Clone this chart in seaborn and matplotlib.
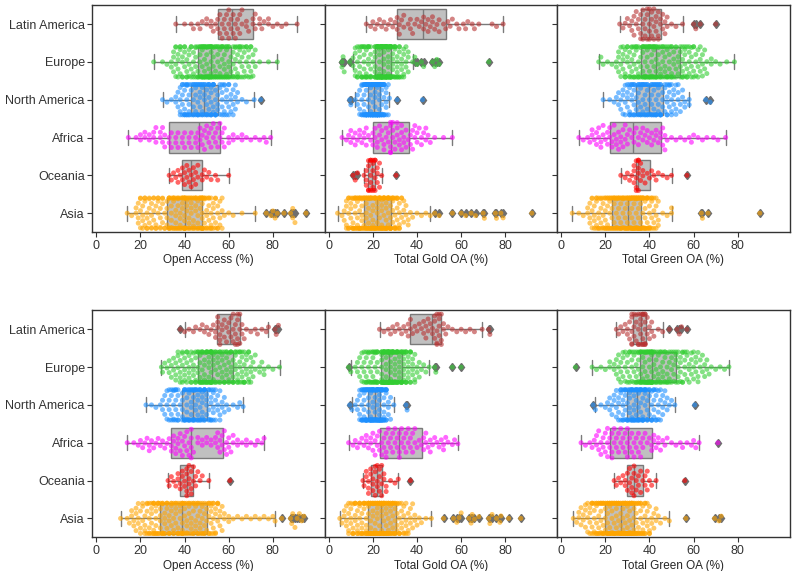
import warnings
warnings.filterwarnings("ignore")
import numpy as np
import pandas as pd
import matplotlib
matplotlib.use("Agg")
import matplotlib.pyplot as plt
import seaborn as sns

REGIONS = ["Latin America", "Europe", "North America", "Africa", "Oceania", "Asia"]
COLORS = ["#b83232", "limegreen", "dodgerblue", "magenta", "red", "orange"]
XLABELS = ["Open Access (%)", "Total Gold OA (%)", "Total Green OA (%)"]
XTICKS = [0, 20, 40, 60, 80]

# Frequency tables (value, count), one list per region.
OA_TOP = {
    "Latin America": [(36,1),(40,1),(43,1),(44,1),(46,1),(47,1),(48,1),(50,2),(52,2),(53,1),(54,1),(55,2),(56,2),(57,2),(58,2),(59,2),(60,3),(61,2),(62,2),(63,2),(64,2),(65,2),(66,2),(68,2),(69,1),(71,2),(72,2),(74,2),(75,1),(76,1),(78,2),(80,1),(82,1),(84,1),(86,1),(91,1)],
    "Europe": [(26,1),(30,1),(32,1),(34,2),(35,3),(36,4),(37,4),(38,4),(39,4),(40,4),(41,4),(42,4),(43,4),(44,4),(45,5),(46,4),(47,6),(48,8),(49,8),(50,8),(51,8),(52,10),(53,6),(54,6),(55,6),(56,6),(57,6),(58,6),(59,6),(60,6),(61,3),(62,5),(63,5),(64,5),(65,5),(66,4),(67,4),(68,4),(69,4),(70,4),(71,3),(72,2),(74,1),(78,1),(82,1)],
    "North America": [(30,1),(32,1),(34,1),(36,2),(37,2),(38,4),(39,5),(40,6),(41,6),(42,6),(43,3),(44,6),(45,6),(46,6),(47,6),(48,6),(49,5),(50,6),(51,6),(52,6),(53,6),(54,6),(55,3),(56,3),(57,5),(58,4),(59,4),(60,4),(61,3),(62,3),(63,3),(64,2),(66,1),(68,1),(71.5,1),(74.5,1)],
    "Africa": [(14.5,1),(18,1),(20,2),(22,2),(24,2),(26,2),(27,2),(29,2),(30,2),(31,2),(33,2),(34,2),(36,2),(37,2),(39,2),(40,2),(42,2),(43,2),(45,2),(46,2),(47,2),(48,2),(49,2),(50,2),(51,2),(52,2),(53,2),(54,2),(55,2),(56,2),(57,2),(58,2),(60,2),(62,2),(64,1),(66,2),(68,1),(70,1),(72,1),(74,1),(76,1),(77,1),(79,1)],
    "Oceania": [(33,1),(34,1),(35,1),(36,1),(37,2),(38,1),(39,2),(40,2),(41,2),(42,2),(43,2),(44,2),(45,2),(46,2),(48,2),(49,1),(50,1),(51,1),(52,1),(54,1),(55,1),(60,1)],
    "Asia": [(14,1),(16,1),(18,2),(19,3),(20,4),(21,4),(22,4),(23,4),(24,4),(25,4),(26,4),(27,4),(28,4),(29,4),(30,4),(31,3),(32,4),(33,6),(34,6),(35,6),(36,6),(37,6),(38,6),(39,6),(40,12),(41,6),(42,6),(43,6),(44,6),(45,6),(46,6),(47,6),(48,12),(49,5),(50,5),(51,5),(52,5),(53,4),(54,4),(55,4),(56,3),(57,3),(58,1),(60,1),(62,1),(66,1),(72,1),(77,1),(79,1),(80,1),(81,1),(82,1),(85,1),(88,1),(89,2),(90,1),(95,1)],
}
GOLD_TOP = {
    "Latin America": [(17,1),(19,1),(20,1),(21,1),(22,1),(23,1),(24,1),(25,1),(26,1),(27,1),(28,1),(29,1),(30,1),(31,2),(32,2),(33,1),(34,2),(36,1),(37,2),(38,1),(39,1),(40,1),(41,1),(42,1),(43,2),(44,1),(45,2),(46,1),(47,2),(48,1),(49,1),(50,2),(52,1),(53,1),(54,1),(55,1),(56,1),(58,1),(59,1),(61,1),(62,1),(63,1),(65,1),(66,1),(68,1),(74,1),(76,1),(79,1)],
    "Europe": [(6,2),(6.5,1),(7,1),(9.5,1),(11,2),(12,4),(13,4),(14,5),(15,5),(16,6),(17,6),(18,6),(19,6),(20,1),(21,9),(22,12),(23,14),(24,16),(25,14),(26,13),(27,12),(28,12),(29,7),(30,6),(31,6),(32,5),(33,4),(34,4),(35,3),(36,3),(38,1),(39,1),(40,1),(42,1),(43,1),(47,1),(48,1),(49,1),(50,1),(72.5,1)],
    "North America": [(9.5,1),(10,1),(12,1),(13,2),(14,3),(15,5),(16,9),(17,12),(18,10),(19,12),(20,14),(21,14),(22,14),(23,14),(24,10),(25,8),(26,5),(27,2),(27.5,1),(31,1),(42.5,1)],
    "Africa": [(6,1),(8,1),(9,1),(10,2),(11,1),(12,2),(13,1),(14,2),(15,1),(16,2),(17,2),(18,1),(19,1),(20,2),(21,2),(22,2),(23,2),(24,2),(25,2),(26,2),(27,2),(28,5),(29,3),(30,2),(31,3),(32,2),(33,3),(34,2),(35,2),(36,1),(37,2),(38,2),(39,2),(40,2),(41,1),(42,2),(43,1),(44,2),(45,1),(46,1),(48,1),(52,1),(56,1)],
    "Oceania": [(11,1),(12,1),(13,1),(16,1),(17,3),(18,4),(19,5),(20,5),(21,4),(22,3),(23,2),(24,1),(30.5,1)],
    "Asia": [(4,1),(6,1),(7,2),(8,4),(9,5),(10,5),(11,6),(12,7),(13,7),(14,8),(15,8),(16,6),(17,9),(18,9),(19,9),(20,9),(21,9),(22,8),(23,9),(24,9),(25,9),(26,9),(27,9),(28,9),(29,6),(30,6),(31,6),(32,5),(33,3),(34,3),(35,2),(36,2),(37,1),(38,1),(40,1),(42,1),(44,1),(46,1),(48,1),(50,1),(56,1),(60,1),(62,1),(64.5,1),(66.5,1),(70,1),(70.5,1),(75.5,1),(76,1),(78,1),(79,1),(92,1)],
}
GREEN_TOP = {
    "Latin America": [(26.5,1),(28,1),(29,1),(30,1),(31,1),(32,2),(33,2),(34,2),(35,2),(36,3),(37,3),(38,3),(39,3),(40,4),(41,3),(42,3),(43,3),(44,3),(45,2),(46,2),(47,2),(48,2),(50,1),(52,1),(55,1),(60,1),(61,1),(63,1),(70,1)],
    "Europe": [(17,1),(18,1),(19,1),(21,1),(23,1),(25,2),(26,3),(27,3),(28,4),(29,4),(30,4),(31,4),(32,5),(33,5),(34,5),(35,5),(36,4),(37,7),(38,7),(39,7),(40,7),(41,7),(42,7),(43,7),(44,5),(45,5),(46,5),(47,5),(48,5),(49,5),(50,5),(51,4),(52,4),(53,3),(54,4),(55,5),(56,5),(57,4),(58,4),(59,4),(60,4),(61,3),(62,3),(63,3),(64,3),(65,2),(66,2),(68,2),(70,1),(72,1),(75,1),(78.5,1)],
    "North America": [(19,1),(22,1),(24,1),(25,1),(26,2),(27,2),(28,3),(29,3),(30,4),(31,5),(32,5),(33,6),(34,4),(35,6),(36,6),(37,6),(38,6),(39,6),(40,4),(41,6),(42,6),(43,6),(44,6),(45,6),(46,3),(47,3),(48,5),(49,4),(50,4),(51,3),(52,3),(53,3),(54,2),(55,2),(56,2),(58,2),(65.5,1),(67.5,1)],
    "Africa": [(8,1),(10,1),(12,1),(13,1),(14,2),(15,1),(16,2),(17,2),(18,2),(19,2),(20,1),(21,2),(22,2),(23,2),(24,2),(25,2),(26,2),(27,2),(28,2),(29,2),(30,2),(31,1),(32,1),(33,2),(34,1),(35,2),(36,1),(37,2),(38,1),(39,2),(40,1),(41,2),(42,1),(43,2),(44,1),(45,2),(46,2),(47,2),(48,1),(50,1),(52,1),(54,1),(56,1),(58,1),(59,1),(60,1),(62,1),(64,1),(66,1),(69,1),(71,1),(74.5,1)],
    "Oceania": [(27,1),(29,1),(30,1),(31,1),(32,1),(33,3),(34,4),(35,5),(36,2),(37,2),(38,1),(39,1),(40,1),(41,1),(42,1),(43,1),(44,1),(46,1),(48,1),(50,1),(57,1)],
    "Asia": [(5,1),(8,1),(10,1),(12,2),(13,3),(14,4),(15,4),(16,5),(17,5),(18,5),(19,5),(20,6),(21,6),(22,6),(23,6),(24,7),(25,7),(26,7),(27,7),(28,7),(29,7),(30,8),(31,8),(32,10),(33,10),(34,10),(35,10),(36,10),(37,8),(38,7),(39,7),(40,6),(41,5),(42,4),(43,4),(44,3),(46,1),(48,1),(50,2),(63.5,1),(64,1),(66.5,1),(90,1)],
}
OA_BOT = {
    "Latin America": [(38,1),(40,1),(42,1),(44,1),(45,1),(47,1),(48,1),(49,1),(50,1),(51,1),(52,1),(53,1),(54,2),(55,3),(56,3),(57,2),(58,2),(59,2),(60,2),(61,2),(62,3),(63,3),(64,4),(65,3),(66,2),(67,1),(68,1),(70,1),(72,1),(73,1),(75,1),(77,1),(78,1),(81,1),(81.5,1),(82.5,1)],
    "Europe": [(29.5,1),(30,1),(31,1),(32,1),(33,2),(34,2),(35,2),(36,3),(37,3),(38,4),(39,4),(40,4),(41,4),(42,4),(43,4),(44,4),(45,5),(46,4),(47,7),(48,7),(49,7),(50,7),(51,7),(52,12),(53,6),(54,5),(55,5),(56,5),(57,5),(58,5),(59,5),(60,5),(61,5),(62,5),(63,5),(64,5),(65,5),(66,5),(67,5),(68,4),(69,4),(70,4),(71,2),(72,2),(74,2),(75,1),(76,2),(78,1),(80,1),(83,1)],
    "North America": [(22.5,1),(25,1),(27,1),(29,1),(30,2),(31,2),(32,3),(33,4),(34,4),(35,5),(36,5),(37,5),(38,1),(39,5),(40,6),(41,6),(42,6),(43,6),(44,8),(45,6),(46,6),(47,6),(48,6),(49,6),(50,4),(51,5),(52,5),(53,5),(54,3),(55,3),(56,3),(57,2),(58,2),(59,1),(60,1),(62,1),(64,1),(65,1),(66.5,1)],
    "Africa": [(14,1),(17,1),(19,1),(20,1),(21,1),(22,1),(23,1),(24,2),(25,1),(26,1),(27,1),(28,1),(29,1),(30,1),(31,1),(32,1),(33,1),(34,2),(35,2),(36,2),(37,2),(38,2),(39,2),(40,2),(41,2),(42,2),(43,4),(44,1),(46,2),(48,2),(50,2),(52,2),(54,2),(55,2),(56,2),(57,2),(58,2),(59,2),(60,2),(61,1),(62,2),(64,2),(66,1),(68,2),(70,1),(72,1),(73,1),(75,1),(76,1)],
    "Oceania": [(32.5,1),(33,1),(34,1),(35,1),(36,1),(37,2),(38,2),(39,2),(40,2),(41,4),(42,3),(43,3),(44,2),(45,2),(46,1),(47,1),(48,1),(51,1),(60.5,1)],
    "Asia": [(11,1),(14,1),(15,1),(16,2),(17,2),(18,3),(19,3),(20,3),(21,3),(22,4),(23,4),(24,5),(25,5),(26,6),(27,6),(28,5),(29,6),(30,6),(31,5),(32,5),(33,5),(34,5),(35,5),(36,5),(37,5),(38,5),(39,8),(40,5),(41,5),(42,5),(43,5),(44,5),(45,5),(46,5),(47,5),(48,5),(49,5),(50,4),(51,5),(52,5),(53,5),(54,4),(55,4),(56,3),(57,2),(58,2),(60,2),(62,1),(64,1),(66,1),(68,1),(70,1),(72,1),(74,1),(76,1),(78,1),(80,1),(81,1),(84,1),(88,1),(88.5,1),(89,1),(90,1),(91,1),(92,1),(93,1),(94,1)],
}
GOLD_BOT = {
    "Latin America": [(23,1),(25,1),(27,1),(28,1),(29,1),(30,1),(31,1),(32,1),(33,1),(34,1),(35,1),(36,2),(37,2),(38,1),(39,1),(40,1),(41,1),(42,1),(43,2),(44,2),(45,2),(46,1),(47,2),(48,3),(49,4),(50,4),(51,3),(52,2),(53,1),(54,1),(56,1),(58,1),(60,1),(62,1),(64,1),(66,1),(69.5,1),(72.5,1),(73,1)],
    "Europe": [(9,1),(10,1),(12,1),(13,2),(14,2),(15,3),(16,4),(17,5),(18,5),(19,5),(20,6),(21,7),(22,8),(24,12),(25,12),(26,13),(27,13),(28,12),(29,11),(30,10),(31,9),(32,7),(33,8),(34,8),(35,6),(36,5),(37,5),(38,4),(39,3),(40,2),(41,2),(42,1),(43,1),(44,1),(45.5,1),(48,1),(48.5,1),(56,1),(60,1)],
    "North America": [(9.5,1),(10.5,1),(12,1),(13,2),(14,4),(15,6),(16,9),(17,10),(18,9),(19,12),(20,13),(21,10),(22,13),(23,14),(24,11),(25,9),(26,7),(27,3),(28,2),(29.5,1),(35,1),(35.5,1)],
    "Africa": [(9,1),(11,1),(12,1),(13,1),(14,1),(15,1),(16,1),(17,2),(18,1),(19,2),(20,2),(21,2),(22,2),(23,2),(24,2),(25,2),(26,3),(27,2),(28,2),(29,2),(30,2),(31,2),(32,3),(33,2),(34,2),(35,2),(36,2),(37,2),(38,2),(39,2),(40,1),(41,1),(42,1),(43,2),(44,2),(45,1),(46,2),(47,1),(48,1),(49,1),(50,1),(51,1),(52,2),(53,1),(54,1),(56,1),(57,1),(58.5,1)],
    "Oceania": [(15.5,1),(16,1),(17,2),(18,3),(19,2),(20,3),(21,3),(22,3),(23,3),(24,3),(25,2),(26,2),(28,1),(30,1),(31.5,1),(37,1)],
    "Asia": [(5,1),(6,1),(7,2),(8,3),(9,4),(10,4),(11,5),(12,5),(13,5),(14,6),(15,6),(16,6),(17,7),(18,9),(19,9),(20,9),(21,9),(22,9),(23,10),(24,9),(25,9),(26,8),(27,8),(28,7),(29,7),(30,7),(31,5),(32,5),(33,4),(34,4),(35,4),(36,3),(37,3),(38,2),(39,2),(40,1),(41,1),(42,1),(44,1),(46.5,1),(52,1),(56.5,1),(58,1),(59,1),(60,1),(63.5,1),(64.5,1),(65,1),(66,1),(68,1),(72.5,1),(73,1),(74,1),(76,1),(77.5,1),(78,1),(81.5,1),(87,1)],
}
GREEN_BOT = {
    "Latin America": [(25,1),(26,1),(27,1),(28,1),(29,1),(30,2),(31,2),(32,5),(33,3),(34,3),(35,4),(36,5),(37,6),(38,7),(39,2),(40,2),(41,2),(42,1),(44,1),(46,1),(49,1),(52.5,1),(53.5,1),(54.5,1),(57,1)],
    "Europe": [(6.5,1),(14,1),(16,1),(18,1),(20,1),(22,2),(24,2),(25,2),(26,3),(27,3),(28,3),(29,3),(30,4),(31,4),(32,4),(33,4),(34,5),(35,6),(36,7),(37,7),(38,8),(39,8),(40,9),(41,12),(42,5),(43,5),(44,5),(45,5),(46,5),(47,5),(48,5),(49,4),(50,4),(51,4),(52,4),(53,4),(54,4),(55,4),(56,4),(57,3),(58,3),(59,3),(60,3),(61,3),(62,3),(63,2),(64,2),(65,2),(66,2),(67,1),(68,1),(70,1),(72,1),(74,1),(76,1)],
    "North America": [(14.5,1),(15.5,1),(18,1),(20,1),(21,1),(22,2),(23,2),(24,2),(25,3),(26,4),(27,4),(28,6),(29,6),(30,5),(31,7),(32,8),(33,8),(34,8),(35,8),(36,7),(37,7),(38,6),(39,6),(40,4),(41,5),(42,5),(43,4),(44,4),(45,3),(46,3),(47,2),(48,2),(49,1),(50,1),(51.5,1),(60.5,1)],
    "Africa": [(9,1),(11,1),(13,1),(14,1),(15,1),(16,2),(17,2),(18,2),(19,2),(20,2),(21,3),(22,2),(23,3),(24,2),(25,2),(26,2),(27,2),(28,2),(29,2),(30,3),(31,2),(32,2),(33,2),(34,2),(35,2),(36,2),(37,2),(38,1),(39,1),(40,1),(41,2),(42,2),(43,1),(44,2),(45,1),(46,1),(47,1),(48,1),(50,1),(52,1),(54,1),(55,1),(57,1),(59,1),(60,1),(61,1),(62.5,1),(71,1)],
    "Oceania": [(24,1),(25,1),(26,1),(27,1),(28,1),(29,2),(30,2),(31,2),(32,3),(33,3),(34,2),(35,2),(36,2),(37,1),(38,2),(39,2),(40,1),(41,1),(43,1),(56,1)],
    "Asia": [(5.5,1),(7,1),(8,2),(9,2),(10,2),(11,3),(12,3),(13,4),(14,5),(15,5),(16,6),(17,6),(18,7),(19,7),(20,6),(21,8),(22,8),(23,8),(24,8),(25,8),(26,8),(27,8),(28,9),(29,9),(30,9),(31,9),(32,9),(33,8),(34,7),(35,6),(36,6),(37,5),(38,5),(39,4),(40,4),(41,2),(42,2),(43,2),(44,1),(45,1),(47,1),(49,1),(56.5,1),(69.5,1),(71.5,1),(72.5,1)],
}

PANELS = [[OA_TOP, GOLD_TOP, GREEN_TOP], [OA_BOT, GOLD_BOT, GREEN_BOT]]


def to_frame(table):
    rows = []
    for reg in REGIONS:
        vals = np.repeat([v for v, c in table[reg]], [c for v, c in table[reg]])
        rows.append(pd.DataFrame({"region": reg, "value": vals}))
    return pd.concat(rows, ignore_index=True)


sns.set_style("ticks")
plt.rcParams["font.family"] = ["Liberation Sans", "DejaVu Sans"]
plt.rcParams["axes.edgecolor"] = "#333333"
plt.rcParams["xtick.color"] = "#333333"
plt.rcParams["ytick.color"] = "#333333"
plt.rcParams["text.color"] = "#262626"
plt.rcParams["axes.labelcolor"] = "#262626"

fig = plt.figure(figsize=(7.96, 5.71), dpi=100)
gs = fig.add_gridspec(2, 3, left=0.116, right=0.992, top=0.991, bottom=0.059,
                      wspace=0.0, hspace=0.345)
pal = dict(zip(REGIONS, COLORS))

for r in range(2):
    for c in range(3):
        ax = fig.add_subplot(gs[r, c])
        df = to_frame(PANELS[r][c])
        sns.boxplot(data=df, x="value", y="region", order=REGIONS, color="#c0c0c0",
                    linecolor="#7a7a7a", linewidth=1.0, width=0.8, whis=1.5,
                    flierprops=dict(marker="d", markersize=4.5,
                                    markerfacecolor="#6e6e6e", markeredgecolor="#6e6e6e"),
                    ax=ax)
        sns.swarmplot(data=df, x="value", y="region", order=REGIONS, hue="region",
                      palette=pal, size=3.6, alpha=0.6, legend=False, zorder=3, ax=ax)
        ax.set_xlim(-1.8, 103.5)
        ax.set_ylim(5.5, -0.5)
        ax.set_xticks(XTICKS)
        ax.set_xlabel(XLABELS[c], fontsize=8.5, labelpad=2)
        ax.set_ylabel("")
        ax.tick_params(axis="both", labelsize=9, length=3.5, width=0.8, pad=2)
        if c > 0:
            ax.set_yticklabels([])
        for s in ax.spines.values():
            s.set_visible(True)
            s.set_linewidth(1.0)

fig.savefig("out.png", dpi=100)
